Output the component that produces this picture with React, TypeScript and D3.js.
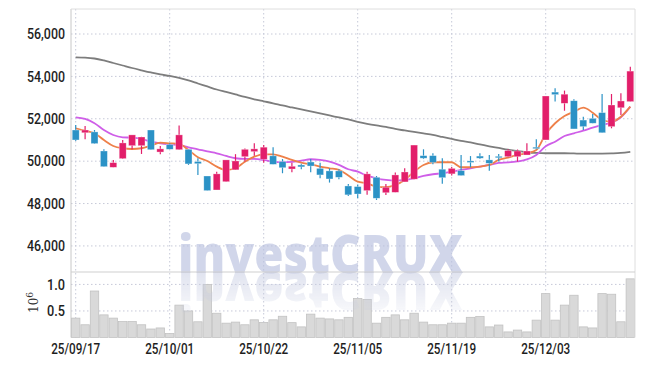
import React from "react";
import * as d3 from "d3";

const dates = [
  "25/09/17","25/09/18","25/09/19","25/09/22","25/09/23","25/09/24","25/09/25","25/09/26","25/09/29","25/09/30",
  "25/10/01","25/10/02","25/10/10","25/10/13","25/10/14","25/10/15","25/10/16","25/10/17","25/10/20","25/10/21",
  "25/10/22","25/10/23","25/10/24","25/10/27","25/10/28","25/10/29","25/10/30","25/10/31","25/11/03","25/11/04",
  "25/11/05","25/11/06","25/11/07","25/11/10","25/11/11","25/11/12","25/11/13","25/11/14","25/11/17","25/11/18",
  "25/11/19","25/11/20","25/11/21","25/11/24","25/11/25","25/11/26","25/11/27","25/11/28","25/12/01","25/12/02",
  "25/12/03","25/12/04","25/12/05","25/12/08","25/12/09","25/12/10","25/12/11","25/12/12","25/12/15","25/12/16",
];

const openP = [
  51470,51340,51380,50480,49710,50120,50730,50730,51470,50430,
  50780,50540,50560,49980,49300,48640,49030,49590,50210,50450,
  50090,50250,49980,49630,49820,49960,49660,49540,49540,48830,
  48800,48610,49240,48510,48530,49020,49150,50260,50260,49620,
  49400,49550,50010,50240,50060,50230,50210,50210,50290,50660,
  51000,53260,52730,52850,51940,52020,52290,51630,52520,52810,
];
const highP = [
  51710,51660,51470,50560,50060,51000,51240,51150,51470,50720,
  50840,51680,50560,50140,49300,49500,50060,50330,50600,50840,
  50760,50660,50100,49930,49880,50100,49930,49660,49620,48920,
  48900,49500,49300,48920,49460,49660,50760,50560,50370,50140,
  49720,50290,50240,50370,50290,50340,50560,50550,50840,51030,
  53075,53440,53330,52920,52100,52230,53170,53170,53200,54460,
];
const lowP = [
  50950,51030,50820,49740,49710,50100,50560,50340,50540,50330,
  50560,50540,49820,49350,48610,48640,49030,49590,49980,50250,
  49930,49850,49430,49480,49620,49480,49190,48990,49150,48360,
  48250,48410,48170,48400,48530,49020,49150,50100,49850,48930,
  49320,49320,49710,50100,49550,49980,50180,49980,50290,50560,
  51000,52810,52380,51520,51470,51790,51340,51550,52180,52810,
];
const closeP = [
  51000,51470,50830,49740,49930,50860,51240,51140,50540,50580,
  50560,51240,49870,49880,48610,49400,50060,50010,50560,50580,
  50660,49850,49690,49760,49730,49770,49350,49160,49240,48410,
  48450,49400,48250,48770,49350,49490,50760,50140,49940,49220,
  49660,49320,49950,50140,49900,50170,50500,50480,50480,50590,
  53075,53140,53160,51520,51630,51790,51340,52650,52840,54250,
];

const maShort = [
  51552,51439,51316,51000,50717,50609,50575,50609,50731,50873,
  50844,50811,50528,50184,50009,49741,49585,49665,49976,50212,
  50325,50325,50212,50057,49929,49854,49741,49665,49585,49325,
  49033,48958,48797,48769,48877,49113,49505,49821,49948,49948,
  49948,49712,49712,49741,49821,50057,50165,50292,50373,50528,
  51283,51788,52132,52335,52524,52288,51943,51863,52099,52571,
];
const maMid = [
  52071,51991,51788,51472,51236,51127,51108,51047,50920,50844,
  50797,50764,50656,50561,50458,50373,50245,50137,50104,50104,
  50057,49976,49948,49962,50024,50090,50057,49976,49821,49618,
  49505,49316,49193,49113,49080,49113,49193,49302,49382,49429,
  49505,49585,49665,49741,49821,49915,49939,49986,50080,50292,
  50703,50920,51189,51316,51439,51580,51708,51816,52071,52571,
];
const maLong = [
  54901,54887,54844,54750,54632,54514,54396,54288,54184,54090,
  54019,53925,53807,53665,53524,53382,53264,53146,53028,52920,
  52825,52731,52627,52533,52439,52344,52250,52156,52061,51967,
  51859,51764,51684,51613,51519,51448,51377,51307,51236,51142,
  51047,50953,50882,50788,50703,50623,50542,50481,50420,50387,
  50373,50373,50373,50363,50354,50354,50358,50368,50387,50434,
];

const volume = [
  0.365,0.24,0.876,0.426,0.365,0.30,0.30,0.24,0.16,0.18,
  0.074,0.61,0.50,0.296,1.0,0.457,0.27,0.29,0.24,0.333,
  0.284,0.333,0.40,0.28,0.20,0.44,0.365,0.35,0.333,0.38,
  0.735,0.717,0.27,0.38,0.426,0.333,0.457,0.29,0.24,0.24,
  0.27,0.27,0.38,0.395,0.20,0.235,0.105,0.14,0.105,0.327,
  0.827,0.327,0.61,0.796,0.20,0.18,0.827,0.815,0.296,1.105,
];

const priceTicks = [46000, 48000, 50000, 52000, 54000, 56000];
const volTicks = [0.5, 1.0];
const xTickLabels = ["25/09/17", "25/10/01", "25/10/22", "25/11/05", "25/11/19", "25/12/03"];

const W = 645, H = 366;
const L = 71, R = 635, T = 9, SEP = 272, B = 337.5;
const UP = "#e21e6a", DOWN = "#2b92c6";
const GRID = "#c6c9d8";
const TICK_FONT = "'Roboto', 'Liberation Sans', sans-serif";

export default function App() {
  const idx = dates.map((_, i) => i);
  const x = d3.scaleBand<number>().domain(idx).range([L, R]).padding(0);
  const bw = x.bandwidth();
  const cx = (i: number) => (x(i) as number) + bw / 2;
  const y = d3.scaleLinear().domain([44770, 57180]).range([SEP, T]);
  const yv = d3.scaleLinear().domain([0, 1.234]).range([B, SEP]);

  const line = (arr: number[]) =>
    d3.line<number>().x((_, i) => cx(i)).y((d) => y(d)).curve(d3.curveMonotoneX)(arr) || "";

  const tickIdx = xTickLabels.map((l) => dates.indexOf(l));
  const cw = bw * 0.74;

  return (
    <div style={{ position: "fixed", left: 0, top: 0 }}>
      <svg width={W} height={H} style={{ display: "block", background: "#fff" }}>
        <defs>
          <clipPath id="plot">
            <rect x={L} y={T} width={R - L} height={SEP - T} />
          </clipPath>
          <linearGradient id="fade" x1="0" y1="0" x2="0" y2="1">
            <stop offset="0" stopColor="#fff" stopOpacity="1" />
            <stop offset="1" stopColor="#fff" stopOpacity="0" />
          </linearGradient>
          <mask id="reflMask" maskUnits="userSpaceOnUse" x="0" y={SEP} width={W} height="60">
            <rect x="0" y={SEP} width={W} height="52" fill="url(#fade)" />
          </mask>
        </defs>

        {/* grid */}
        {priceTicks.map((t) => (
          <line key={"gy" + t} x1={L} x2={R} y1={y(t)} y2={y(t)} stroke={GRID} strokeDasharray="1.5,2.5" />
        ))}
        {volTicks.map((t) => (
          <line key={"gv" + t} x1={L} x2={R} y1={yv(t)} y2={yv(t)} stroke={GRID} strokeDasharray="1.5,2.5" />
        ))}
        {tickIdx.map((i) => (
          <line key={"gx" + i} x1={cx(i)} x2={cx(i)} y1={T} y2={B} stroke={GRID} strokeDasharray="1.5,2.5" />
        ))}

        {/* volume bars */}
        {volume.map((v, i) => (
          <rect key={"v" + i} x={(x(i) as number) + 0.5} width={bw - 1} y={yv(v)} height={B - yv(v)}
            fill="#d9d9d9" stroke="#c2c2c2" strokeWidth={0.8} />
        ))}

        {/* moving averages */}
        <g clipPath="url(#plot)" fill="none">
          <path d={line(maLong)} stroke="#7d7d7d" strokeWidth={1.8} />
          <path d={line(maMid)} stroke="#cf5ee8" strokeWidth={1.8} />
          <path d={line(maShort)} stroke="#ee8049" strokeWidth={1.8} />
        </g>

        {/* candles */}
        {idx.map((i) => {
          const up = closeP[i] >= openP[i];
          const c = up ? UP : DOWN;
          const top = y(Math.max(openP[i], closeP[i]));
          const bot = y(Math.min(openP[i], closeP[i]));
          return (
            <g key={"c" + i}>
              <line x1={cx(i)} x2={cx(i)} y1={y(highP[i])} y2={y(lowP[i])} stroke={c} strokeWidth={1.2} />
              <rect x={cx(i) - cw / 2} width={cw} y={top} height={Math.max(1.5, bot - top)} fill={c} stroke="#fff" strokeOpacity={0.5} strokeWidth={0.6} />
            </g>
          );
        })}

        {/* watermark */}
        <text x={178} y={273} textLength={285} lengthAdjust="spacingAndGlyphs"
          fontFamily="'Open Sans', 'Noto Sans', sans-serif" fontWeight={800} fontSize={53}
          fill="#b9c0de" fillOpacity={0.65}>investCRUX</text>
        <g mask="url(#reflMask)">
          <text x={178} y={273} textLength={285} lengthAdjust="spacingAndGlyphs"
            transform={`translate(0, ${2 * SEP + 1}) scale(1,-1)`}
            fontFamily="'Open Sans', 'Noto Sans', sans-serif" fontWeight={800} fontSize={53}
            fill="#c7cce2" fillOpacity={0.55}>investCRUX</text>
        </g>

        {/* frame */}
        <line x1={L} x2={L} y1={T} y2={B} stroke="#c8c8c8" />
        <line x1={R} x2={R} y1={T} y2={B} stroke="#dedede" />
        <line x1={L} x2={R} y1={T} y2={T} stroke="#dedede" />
        <line x1={L} x2={R} y1={SEP} y2={SEP} stroke="#cfcfcf" />

        {/* axis labels */}
        {priceTicks.map((t) => (
          <text key={"ty" + t} x={65} y={y(t)} dy="0.36em" textAnchor="end" fontFamily={TICK_FONT}
            fontWeight={500} fontSize={14.5} fill="#1e1e1e" textLength={38} lengthAdjust="spacingAndGlyphs">
            {d3.format(",")(t)}
          </text>
        ))}
        {volTicks.map((t) => (
          <text key={"tv" + t} x={65} y={yv(t)} dy="0.36em" textAnchor="end" fontFamily={TICK_FONT}
            fontWeight={500} fontSize={14.5} fill="#1e1e1e" textLength={18} lengthAdjust="spacingAndGlyphs">
            {d3.format(".1f")(t)}
          </text>
        ))}
        {tickIdx.map((i, k) => (
          <text key={"tx" + i} x={cx(i) - 24.5} y={354} fontFamily={TICK_FONT}
            fontWeight={500} fontSize={14.5} fill="#1e1e1e" textLength={49} lengthAdjust="spacingAndGlyphs">
            {xTickLabels[k]}
          </text>
        ))}
        <text transform="translate(38,313) rotate(-90)" fontFamily="'DejaVu Serif', serif" fontSize={12} fill="#333">
          10<tspan dy={-5} fontSize={9}>6</tspan>
        </text>
      </svg>
    </div>
  );
}
